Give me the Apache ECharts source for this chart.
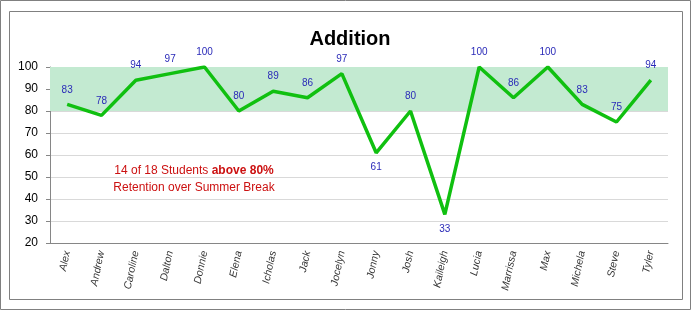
<!DOCTYPE html>
<html><head><meta charset="utf-8">
<script src="https://cdn.jsdelivr.net/npm/echarts@6/dist/echarts.min.js"></script>
<style>html,body{margin:0;padding:0;background:#fff}#c{width:692px;height:311px}</style>
</head><body><div id="c"></div>
<script>
const students = ["Alex","Andrew","Caroline","Dalton","Donnie","Elena","Icholas","Jack","Jocelyn","Jonny","Josh","Kaileigh","Lucia","Marrissa","Max","Michela","Steve","Tyler"];
const scores = [83,78,94,97,100,80,89,86,97,61,80,33,100,86,100,83,75,94];
const yTicks = {min:20, max:100, interval:10};
const band = [80,100];
const below = [61,33];

const chart = echarts.init(document.getElementById('c'));
const font = 'Liberation Sans, Arial, sans-serif';
chart.setOption({
  animation:false,
  title:{text:'Addition', left:345, top:24, textAlign:'center',
    textStyle:{fontFamily:font, fontSize:20, fontWeight:'bold', color:'#000'}},
  grid:{left:50, right:24, top:67, bottom:68},
  xAxis:{type:'category', data:students, boundaryGap:true,
    axisLine:{lineStyle:{color:'#868686'}},
    axisTick:{alignWithLabel:true, length:4, lineStyle:{color:'#868686'}},
    axisLabel:{rotate:78, fontFamily:font, fontSize:10.5, fontStyle:'italic', color:'#333', margin:8, interval:0}},
  yAxis:{type:'value', min:yTicks.min, max:yTicks.max, interval:yTicks.interval,
    axisLine:{show:true, lineStyle:{color:'#868686'}},
    axisTick:{show:true, length:4, lineStyle:{color:'#868686'}},
    splitLine:{lineStyle:{color:'#d9d9d9'}},
    axisLabel:{fontFamily:font, fontSize:12, color:'#000', margin:12}},
  graphic:[
    {type:'rect', shape:{x:0.5,y:0.5,width:690,height:309}, style:{fill:'none', stroke:'#808080', lineWidth:1}, z:-10},
    {type:'rect', shape:{x:9.5,y:11.5,width:673,height:288}, style:{fill:'none', stroke:'#808080', lineWidth:1}, z:-10},
    {type:'text', x:194, y:162, style:{
      text:'{a|14 of 18 Students }{b|above 80%}\n{a|Retention over Summer Break}',
      textAlign:'center', rich:{
        a:{fontFamily:font, fontSize:12, fill:'#cc1111', lineHeight:17},
        b:{fontFamily:font, fontSize:12, fontWeight:'bold', fill:'#cc1111', lineHeight:17}}}}
  ],
  series:[{
    type:'line', data:scores.map(v=>({value:v, label:{position: below.includes(v)?'bottom':'top'}})),
    symbol:'circle', symbolSize:1, showSymbol:true, itemStyle:{color:'rgba(0,0,0,0)'},
    lineStyle:{color:'#10c010', width:3.5},
    label:{show:true, distance:9, fontFamily:font, fontSize:10, color:'#2a2ab8'},
    markArea:{silent:true, itemStyle:{color:'#c3ead1'}, data:[[{yAxis:band[0]},{yAxis:band[1]}]]}
  }]
});
</script></body></html>
